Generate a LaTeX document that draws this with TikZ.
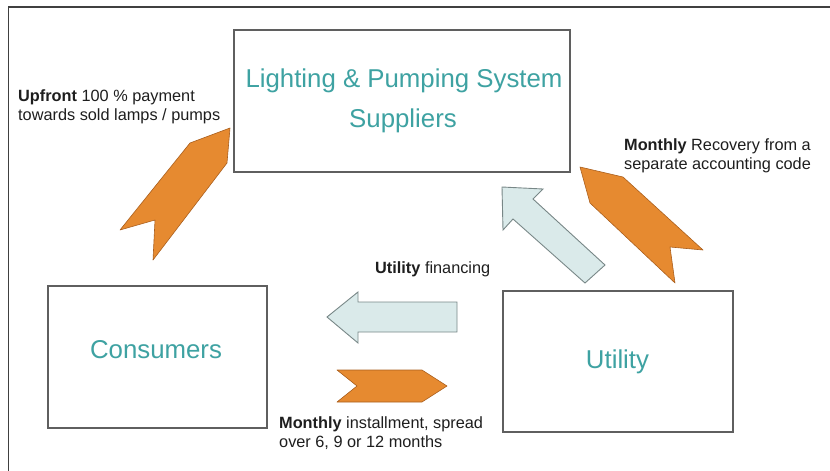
\documentclass[tikz,border=0pt]{standalone}
\usepackage{fontspec}
\setmainfont{Liberation Sans}
\definecolor{teal1}{RGB}{62,162,162}
\definecolor{orng}{RGB}{230,138,48}
\definecolor{orngd}{RGB}{170,95,30}
\definecolor{ltblue}{RGB}{218,234,234}
\definecolor{ltblued}{RGB}{120,135,135}
\definecolor{boxline}{RGB}{95,95,95}
\definecolor{txt}{RGB}{30,30,30}
\tikzset{
  box/.style={draw=boxline, line width=1.6pt, fill=white, minimum width=#1, inner sep=0pt},
  boxtext/.style={anchor=base, text=teal1, font=\fontsize{25.8}{30}\selectfont},
  lab/.style={anchor=west, align=left, text=txt, inner sep=0pt, font=\fontsize{16.3}{19}\selectfont},
  orangearrow/.style={fill=orng, draw=orngd, line width=0.6pt, line join=round},
  bluearrow/.style={fill=ltblue, draw=ltblued, line width=0.9pt, line join=miter},
  frame/.style={draw=black!75, line width=1.4pt}
}
\begin{document}
\begin{tikzpicture}[x=1pt,y=-1pt]
\useasboundingbox (0,0) rectangle (830,471);
% outer frame (top and left edges only)
\coordinate (f1) at (8.5,471);
\coordinate (f2) at (8.5,7);
\coordinate (f3) at (830,7);
\draw[frame] (f1) -- (f2) -- (f3);

% boxes
\node[box=336pt, minimum height=142pt] (sup) at (402,101) {};
\node[box=219pt, minimum height=142pt] (con) at (157.5,357) {};
\node[box=230pt, minimum height=141pt] (uti) at (618,361.5) {};

\node[boxtext] (supA) at (404,87) {Lighting \& Pumping System};
\node[boxtext] (supB) at (403,127) {Suppliers};
\node[boxtext] (conT) at (156,358) {Consumers};
\node[boxtext] (utiT) at (617.5,368) {Utility};

% orange chevron upper left (consumers -> suppliers)
\draw[orangearrow] (230,128) -- (227,163) -- (153,260) -- (155,220) -- (120,230) -- (190,143) -- cycle;
% orange chevron upper right (utility -> suppliers)
\draw[orangearrow] (580,167) -- (623,177) -- (703,250) -- (670,247) -- (675,283) -- (590,203) -- cycle;
% orange chevron horizontal (consumers -> utility)
\draw[orangearrow] (337,370) -- (422,370) -- (447,386) -- (422,402) -- (337,402) -- (357,386) -- cycle;

% light blue block arrow diagonal (utility -> suppliers)
\draw[bluearrow] (502,187) -- (543,189) -- (533,199) -- (605,265) -- (585,283) -- (513,219) -- (503,230) -- cycle;
% light blue block arrow horizontal (utility -> consumers)
\draw[bluearrow] (327,317) -- (358,292) -- (358,302) -- (457,302) -- (457,332) -- (358,332) -- (358,343) -- cycle;

% labels
\node[lab] (l1) at (18,106.5) {\textbf{Upfront} 100 \% payment\\towards sold lamps / pumps};
\node[lab] (l2) at (624,155.5) {\textbf{Monthly} Recovery from a\\separate accounting code};
\node[lab] (l3) at (375,269) {\textbf{Utility} financing};
\node[lab] (l4) at (279,433) {\textbf{Monthly} installment, spread\\over 6, 9 or 12 months};
\end{tikzpicture}
\end{document}
